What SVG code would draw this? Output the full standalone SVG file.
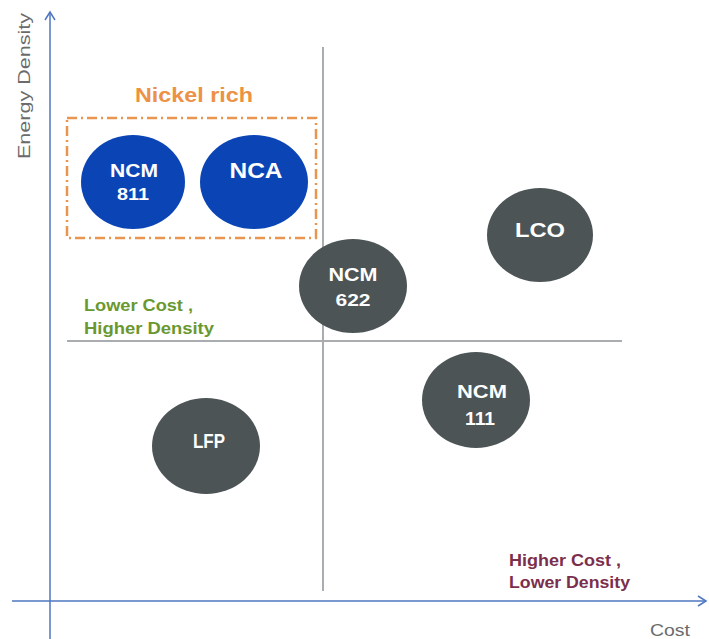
<svg xmlns="http://www.w3.org/2000/svg" width="709" height="639" viewBox="0 0 709 639">
<style>
.axis{stroke:#4f77c2;stroke-width:1.5;fill:none}
.grid{stroke:#a9adaf;stroke-width:2;fill:none}
.blue{fill:#0b45b5}
.gray{fill:#4c5456}
.nt{font-family:"Liberation Sans",Arial,sans-serif;font-weight:bold;fill:#ffffff;text-anchor:middle}
.lab{font-family:"Liberation Sans",Arial,sans-serif;font-size:16px;font-weight:bold}
.ax{font-family:"Liberation Sans",Arial,sans-serif;font-size:17px;fill:#6b6b6b}
</style>
<defs>
<marker id="arr" markerWidth="12" markerHeight="12" refX="10" refY="6" orient="auto" markerUnits="userSpaceOnUse">
<path d="M2,1 L10,6 L2,11" fill="none" stroke="#4f77c2" stroke-width="1.5"/>
</marker>
</defs>
<g id="connectors">
<line class="axis" x1="50" y1="639" x2="50" y2="12" marker-end="url(#arr)"/>
<line class="axis" x1="12" y1="601" x2="706" y2="601" marker-end="url(#arr)"/>
<line class="grid" x1="323" y1="47" x2="323" y2="591"/>
<line class="grid" x1="67" y1="341" x2="622" y2="341"/>
</g>
<g id="axis-labels">
<text class="ax" transform="translate(30,86) rotate(-90)" text-anchor="middle" textLength="146" lengthAdjust="spacingAndGlyphs">Energy Density</text>
<text class="ax" x="650" y="636" textLength="40" lengthAdjust="spacingAndGlyphs">Cost</text>
</g>
<g id="nickel-rich">
<rect x="67" y="118" width="249" height="120" fill="none" stroke="#e9954f" stroke-width="2.5" stroke-dasharray="10,4,2,4"/>
<text x="194" y="102" font-family="Liberation Sans,Arial,sans-serif" font-size="20" font-weight="bold" fill="#ec9246" text-anchor="middle" textLength="118" lengthAdjust="spacingAndGlyphs">Nickel rich</text>
</g>
<g id="ncm811">
<ellipse class="blue" cx="133" cy="182" rx="52" ry="47"/>
<text class="nt" x="134" y="177" font-size="19" textLength="48" lengthAdjust="spacingAndGlyphs">NCM</text>
<text class="nt" x="133" y="200" font-size="17" textLength="32" lengthAdjust="spacingAndGlyphs">811</text>
</g>
<g id="nca">
<ellipse class="blue" cx="254" cy="182" rx="54" ry="47"/>
<text class="nt" x="256" y="178" font-size="22" textLength="53" lengthAdjust="spacingAndGlyphs">NCA</text>
</g>
<g id="ncm622">
<ellipse class="gray" cx="353" cy="286" rx="54" ry="47"/>
<text class="nt" x="353" y="281" font-size="18" textLength="49" lengthAdjust="spacingAndGlyphs">NCM</text>
<text class="nt" x="353" y="306" font-size="17" textLength="35" lengthAdjust="spacingAndGlyphs">622</text>
</g>
<g id="lco">
<ellipse class="gray" cx="540" cy="235" rx="53" ry="47"/>
<text class="nt" x="540" y="237" font-size="20" textLength="50" lengthAdjust="spacingAndGlyphs">LCO</text>
</g>
<g id="lfp">
<ellipse class="gray" cx="206" cy="446" rx="54" ry="48"/>
<text class="nt" x="209" y="448" font-size="20" textLength="32" lengthAdjust="spacingAndGlyphs">LFP</text>
</g>
<g id="ncm111">
<ellipse class="gray" cx="476" cy="400" rx="54" ry="48"/>
<text class="nt" x="482" y="398" font-size="19" textLength="50" lengthAdjust="spacingAndGlyphs">NCM</text>
<text class="nt" x="480" y="425" font-size="19" textLength="30" lengthAdjust="spacingAndGlyphs">111</text>
</g>
<g id="quadrant-labels">
<text class="lab" x="84" y="311" fill="#6a982f" textLength="109" lengthAdjust="spacingAndGlyphs">Lower Cost ,</text>
<text class="lab" x="84" y="334" fill="#6a982f" textLength="130" lengthAdjust="spacingAndGlyphs">Higher Density</text>
<text class="lab" x="509" y="566" fill="#7b2f4d" textLength="112" lengthAdjust="spacingAndGlyphs">Higher Cost ,</text>
<text class="lab" x="509" y="588" fill="#7b2f4d" textLength="121" lengthAdjust="spacingAndGlyphs">Lower Density</text>
</g>
</svg>
